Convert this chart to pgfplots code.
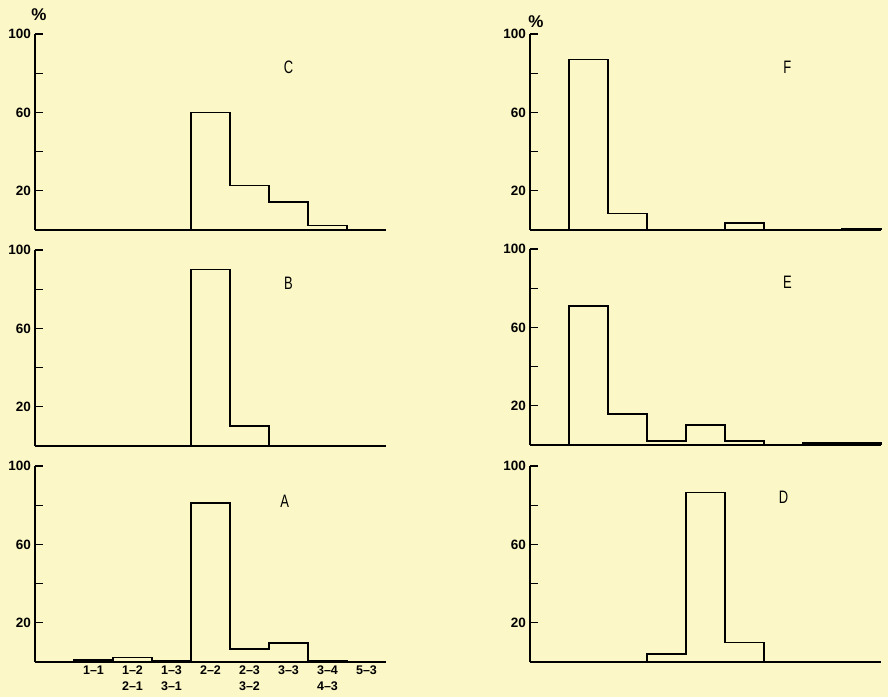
\documentclass[border=0pt]{standalone}
\usepackage{fontspec}
\setmainfont{Liberation Sans}
\usepackage{pgfplots}
\pgfplotsset{compat=1.18}
\definecolor{bg}{HTML}{FBF7C6}

\pgfplotsset{
  panel/.style={
    scale only axis, width=351pt, height=196pt,
    xmin=0, xmax=9, ymin=0, ymax=100,
    axis lines=left, axis line style={-, line width=1.6pt, black},
    ytick={20,60,100}, minor ytick={40,80},
    tick align=inside, major tick length=8pt, minor tick length=8pt,
    tick style={black, line width=1.3pt},
    xtick style={draw=none},
    yticklabel style={font=\bfseries\fontsize{13.5}{13.5}\selectfont, inner sep=1pt, xshift=-3pt},
    /pgf/number format/assume math mode=true,
    xtick=\empty,
    clip=false,
    anchor=south west,
  },
  bars/.style={const plot, line width=1.6pt, black, mark=none},
}
\tikzset{letter/.style={font=\fontsize{18}{18}\selectfont, xscale=0.72}}

\begin{document}
\begin{tikzpicture}
\fill[bg] (0,0) rectangle (888pt,697pt);

% ---- C (top left)
\begin{axis}[panel, at={(35pt,467pt)}]
\addplot[bars] coordinates {(0,0) (1,0) (2,0) (3,0) (4,60) (5,22.7) (6,14.4) (7,2.2) (8,0) (9,0)};
\node[letter] at (axis cs:6.5,83) {C};
\end{axis}

% ---- B (middle left)
\begin{axis}[panel, at={(35pt,251pt)}]
\addplot[bars] coordinates {(0,0) (1,0) (2,0) (3,0) (4,90) (5,10.2) (6,0) (7,0) (8,0) (9,0)};
\node[letter] at (axis cs:6.5,83) {B};
\end{axis}

% ---- A (bottom left)
\begin{axis}[panel, at={(35pt,35pt)},
  xtick={1.5,2.5,3.5,4.5,5.5,6.5,7.5,8.5},
  xticklabels={{1\textendash1},{1\textendash2\\2\textendash1},{1\textendash3\\3\textendash1},{2\textendash2},{2\textendash3\\3\textendash2},{3\textendash3},{3\textendash4\\4\textendash3},{5\textendash3}},
  xticklabel style={font=\bfseries\fontsize{12.5}{16}\selectfont, align=center, anchor=north, inner sep=0pt, yshift=-4pt},
]
\addplot[bars] coordinates {(0,0) (1,1) (2,2.3) (3,0.8) (4,81) (5,6.7) (6,9.6) (7,0.8) (8,0) (9,0)};
\node[letter] at (axis cs:6.4,82) {A};
\end{axis}

% ---- F (top right)
\begin{axis}[panel, at={(530pt,467pt)}]
\addplot[bars] coordinates {(0,0) (1,87) (2,8.5) (3,0) (4,0) (5,3.7) (6,0) (7,0) (8,0.6) (9,0)};
\node[letter] at (axis cs:6.6,83) {F};
\end{axis}

% ---- E (middle right)
\begin{axis}[panel, at={(530pt,252pt)}]
\addplot[bars] coordinates {(0,0) (1,71) (2,15.8) (3,2) (4,10.2) (5,2) (6,0) (7,1) (8,1) (9,0)};
\node[letter] at (axis cs:6.6,83) {E};
\end{axis}

% ---- D (bottom right)
\begin{axis}[panel, at={(530pt,35pt)}]
\addplot[bars] coordinates {(0,0) (1,0) (2,0) (3,4) (4,86.4) (5,10) (6,0) (7,0) (8,0) (9,0)};
\node[letter] at (axis cs:6.5,84) {D};
\end{axis}

\node[font=\bfseries\fontsize{17}{17}\selectfont] at (39pt,682pt) {\%};
\node[font=\bfseries\fontsize{17}{17}\selectfont] at (536pt,675pt) {\%};

\pgfresetboundingbox
\useasboundingbox (0,0) rectangle (888pt,697pt);
\end{tikzpicture}
\end{document}
